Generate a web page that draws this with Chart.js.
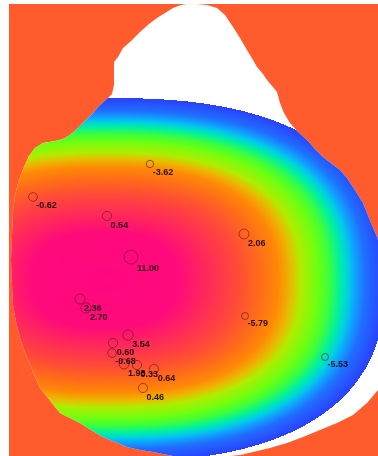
<!DOCTYPE html>
<html>
<head>
<meta charset="utf-8">
<script src="https://cdn.jsdelivr.net/npm/chart.js@4.4.1/dist/chart.umd.min.js"></script>
<style>
  html, body { margin: 0; padding: 0; background: #ffffff; }
  #wrap { position: relative; width: 378px; height: 456px; }
</style>
</head>
<body>
<div id="wrap"><canvas id="map"></canvas></div>
<script>
// Sample sites: measured value and map position (map units)
const siteValues = [-3.62, -0.62, 0.54, 11.00, 2.06, 2.36, 2.70, 3.54, 0.60, -0.68, -5.79, 1.98, 0.33, 0.64, 0.46, -5.53];
const siteX      = [150, 33, 107, 131, 244, 80, 86, 128, 113, 112, 245, 124, 137, 154, 143, 325];
const siteY      = [164, 197, 216, 257, 234, 299, 308, 335, 343, 353, 316, 364, 365, 369, 388, 357];

// Outline of the surveyed area (map units)
const hullX = [60, 55, 48, 40, 33, 26, 20, 16, 13, 12, 11, 12, 13, 15, 19, 24, 29, 35, 43, 55, 63, 70, 78, 85, 93, 100, 108, 112, 114, 114,
               118, 123, 131, 140, 149, 157, 165, 173, 181, 187, 197, 207, 217, 225, 233, 240, 247, 253, 257, 263, 267, 273, 277, 280, 284,
               290, 298, 307, 315, 323, 332, 340, 347, 353, 358, 363, 367, 371, 375, 378,
               378, 367, 353, 337, 320, 303, 287, 270, 253, 240, 230,
               173, 163, 153, 140, 127, 115, 103, 91, 80, 70, 60];
const hullY = [413, 407, 398, 388, 372, 355, 338, 322, 305, 285, 260, 235, 212, 195, 180, 167, 156, 148, 143, 141, 139, 135, 128, 121, 113, 105, 98, 94, 85, 62,
               57, 48, 41, 32, 24, 18, 13, 8, 5, 4, 4, 5, 8, 15, 27, 38, 50, 60, 67, 74, 80, 87, 92, 103, 113,
               123, 132, 140, 149, 157, 164, 170, 178, 187, 195, 203, 213, 223, 232, 240,
               390, 403, 415, 423, 430, 437, 443, 448, 452, 455, 456,
               456, 454, 452, 450, 447, 442, 437, 430, 423, 418, 413];

// Shading of the surface: centre, reach and colour ramp
const SURFACE = { cx: 105, cy: 280, rx: 280, ry: 182, power: 2.5 };
const rampStops = [
  [0.00, [255, 8, 128]],
  [0.26, [255, 10, 122]],
  [0.36, [255, 40, 90]],
  [0.47, [255, 74, 56]],
  [0.55, [255, 106, 26]],
  [0.62, [255, 138, 5]],
  [0.665, [232, 188, 0]],
  [0.70, [176, 236, 0]],
  [0.76, [110, 255, 16]],
  [0.80, [60, 255, 60]],
  [0.84, [0, 240, 160]],
  [0.87, [0, 205, 230]],
  [0.895, [16, 160, 255]],
  [0.93, [32, 110, 255]],
  [1.00, [42, 64, 255]]
];
const OUTSIDE_COLOR = '#ff5b2d';

function rampColor(d) {
  for (let i = 1; i < rampStops.length; i++) {
    const [t1, c1] = rampStops[i];
    if (d <= t1) {
      const [t0, c0] = rampStops[i - 1];
      const f = (d - t0) / (t1 - t0);
      return [c0[0] + (c1[0] - c0[0]) * f, c0[1] + (c1[1] - c0[1]) * f, c0[2] + (c1[2] - c0[2]) * f];
    }
  }
  return rampStops[rampStops.length - 1][1];
}

function siteRadius(v) {
  return Math.max(3.5, 4.5 + 0.22 * v);
}

const sitePoints = siteValues.map((v, i) => ({ x: siteX[i], y: siteY[i], v }));
const hullPoints = hullX.map((x, i) => ({ x, y: hullY[i] }));

// Fill the plot area with the outside colour
const backdrop = {
  id: 'backdrop',
  beforeDatasetsDraw(chart) {
    const { ctx, chartArea: a } = chart;
    ctx.save();
    ctx.fillStyle = OUTSIDE_COLOR;
    ctx.fillRect(a.left, a.top, a.right - a.left, a.bottom - a.top);
    ctx.restore();
  }
};

// Paint the shaded surface inside the survey outline
const surface = {
  id: 'surface',
  afterDatasetDraw(chart, args) {
    if (args.index !== 1) return;
    const { ctx, chartArea: a, scales } = chart;
    const w = Math.round(a.right - a.left), h = Math.round(a.bottom - a.top);
    const off = document.createElement('canvas');
    off.width = w; off.height = h;
    const octx = off.getContext('2d');
    const img = octx.createImageData(w, h);
    const p = SURFACE.power;
    for (let py = 0; py < h; py++) {
      const y = scales.y.getValueForPixel(a.top + py + 0.5);
      const ny = Math.pow(Math.abs(y - SURFACE.cy) / SURFACE.ry, p);
      for (let px = 0; px < w; px++) {
        const x = scales.x.getValueForPixel(a.left + px + 0.5);
        const nx = Math.pow(Math.abs(x - SURFACE.cx) / SURFACE.rx, p);
        const d = Math.pow(nx + ny, 1 / p);
        const k = (py * w + px) * 4;
        if (d > 1) { img.data[k + 3] = 0; continue; }
        const c = rampColor(d);
        img.data[k] = c[0]; img.data[k + 1] = c[1]; img.data[k + 2] = c[2]; img.data[k + 3] = 255;
      }
    }
    octx.putImageData(img, 0, 0);

    const pts = args.meta.data;
    ctx.save();
    ctx.beginPath();
    pts.forEach((pt, i) => (i ? ctx.lineTo(pt.x, pt.y) : ctx.moveTo(pt.x, pt.y)));
    ctx.closePath();
    ctx.clip();
    ctx.drawImage(off, a.left, a.top, w, h);
    ctx.restore();
  }
};

// Value labels beside each site marker
const siteLabels = {
  id: 'siteLabels',
  afterDatasetsDraw(chart) {
    const { ctx } = chart;
    const meta = chart.getDatasetMeta(0);
    ctx.save();
    ctx.font = 'bold 9px "Liberation Sans", Arial, sans-serif';
    ctx.textBaseline = 'middle';
    ctx.textAlign = 'left';
    ctx.fillStyle = 'rgba(15, 0, 10, 0.88)';
    meta.data.forEach((pt, i) => {
      const r = siteRadius(siteValues[i]);
      ctx.fillText(siteValues[i].toFixed(2), pt.x + r - 1, pt.y + r + 4.5);
    });
    ctx.restore();
  }
};

new Chart(document.getElementById('map'), {
  type: 'scatter',
  data: {
    datasets: [
      {
        label: 'Sites',
        data: sitePoints,
        order: 1,
        backgroundColor: 'rgba(0,0,0,0)',
        borderColor: 'rgba(95, 25, 35, 0.62)',
        borderWidth: 1,
        pointRadius: (c) => siteRadius(c.raw ? c.raw.v : 0),
        pointStyle: 'circle'
      },
      {
        type: 'line',
        label: 'Survey area',
        data: hullPoints,
        order: 2,
        fill: 'shape',
        backgroundColor: '#ffffff',
        borderWidth: 0,
        pointRadius: 0,
        pointHoverRadius: 0,
        tension: 0
      }
    ]
  },
  options: {
    responsive: true,
    maintainAspectRatio: false,
    animation: false,
    events: [],
    layout: { autoPadding: false, padding: { left: 9, top: 4, right: 0, bottom: 0 } },
    plugins: { legend: { display: false }, tooltip: { enabled: false } },
    scales: {
      x: { type: 'linear', min: 9, max: 378, display: false },
      y: { type: 'linear', min: 4, max: 456, reverse: true, display: false }
    }
  },
  plugins: [backdrop, surface, siteLabels]
});
</script>
</body>
</html>
